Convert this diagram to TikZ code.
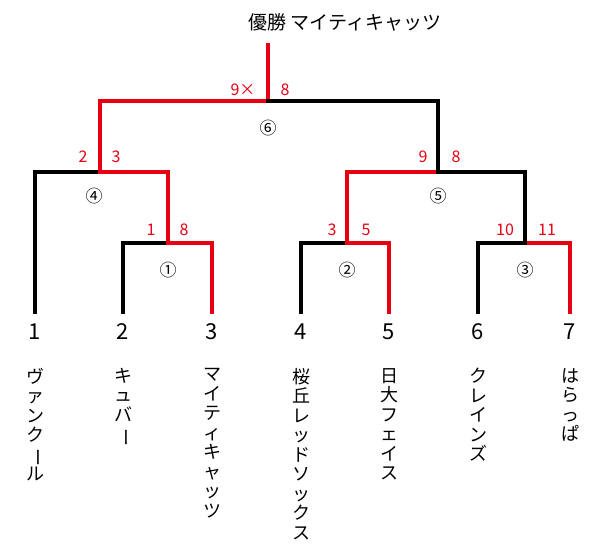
\documentclass[tikz,border=0pt]{standalone}
\usepackage{fontspec}
\setmainfont{Noto Sans CJK JP}
\usepackage{graphicx}
\definecolor{winred}{RGB}{230,0,18}
\newcommand{\longbar}{\rotatebox[origin=c]{-90}{ー}}

\begin{document}
\begin{tikzpicture}[x=1pt, y=-1pt, line cap=rect]
  % Define styles
  \tikzset{
    lose/.style={line width=4pt, black},
    win/.style={line width=4pt, winred},
    score/.style={text=winred, font=\fontsize{16}{16}\selectfont},
    seat/.style={font=\fontsize{22}{22}\selectfont},
    round/.style={font=\fontsize{17}{17}\selectfont},
    team/.style={anchor=north, align=center, font=\fontsize{18}{19.5}\selectfont, inner sep=0pt}
  }
  \useasboundingbox (0,0) rectangle (600,556);

  % Seats
  \foreach \n/\x in {1/35,2/123,3/212,4/301,5/389,6/478,7/570}
    \node [seat] (seat\n) at (\x,332) {\n};

  % Teams
  \node [team] (team1) at (35,368) {ヴ\\ァ\\ン\\ク\\\longbar\\ル};
  \node [team] (team2) at (123,368) {キ\\ュ\\バ\\\longbar};
  \node [team] (team3) at (212,368) {マ\\イ\\テ\\ィ\\キ\\ャ\\ッ\\ツ};
  \node [team] (team4) at (301,368) {桜\\丘\\レ\\ッ\\ド\\ソ\\ッ\\ク\\ス};
  \node [team] (team5) at (389,368) {日\\大\\フ\\ェ\\イ\\ス};
  \node [team] (team6) at (478,368) {ク\\レ\\イ\\ン\\ズ};
  \node [team] (team7) at (570,368) {は\\ら\\っ\\ぱ};

  % Bracket
  \draw [lose] (35,312) -- (35,172) -- (100,172);
  \draw [lose] (123,312) -- (123,243) -- (168,243);
  \draw [win] (212,312) -- (212,243) -- (168,243) -- (168,172) -- (100,172) -- (100,101) -- (268,101) -- (268,45);
  \draw [lose] (301,312) -- (301,243) -- (347,243);
  \draw [win] (389,312) -- (389,243) -- (347,243) -- (347,172) -- (438,172);
  \draw [lose] (478,312) -- (478,243) -- (525,243);
  \draw [win] (570,312) -- (570,243) -- (525,243);
  \draw [lose] (525,243) -- (525,172) -- (438,172) -- (438,101) -- (268,101);

  % Title
  \node [font=\fontsize{19}{19}\selectfont] (title) at (345,22) {優勝 マイティキャッツ};

  % Scores
  \node [score] (s6a) at (243,90) {9×};
  \node [score] (s6b) at (285,90) {8};
  \node [score] (s4a) at (83,157) {2};
  \node [score] (s4b) at (116,157) {3};
  \node [score] (s1a) at (151,230) {1};
  \node [score] (s1b) at (184,230) {8};
  \node [score] (s2a) at (332,230) {3};
  \node [score] (s2b) at (366,230) {5};
  \node [score] (s3a) at (505,230) {10};
  \node [score] (s3b) at (547,230) {11};
  \node [score] (s5a) at (423,157) {9};
  \node [score] (s5b) at (456,157) {8};

  % Rounds
  \node [round] (r6) at (268,128) {⑥};
  \node [round] (r4) at (94,196) {④};
  \node [round] (r1) at (168,270) {①};
  \node [round] (r2) at (347,270) {②};
  \node [round] (r5) at (438,196) {⑤};
  \node [round] (r3) at (525,270) {③};
\end{tikzpicture}
\end{document}
